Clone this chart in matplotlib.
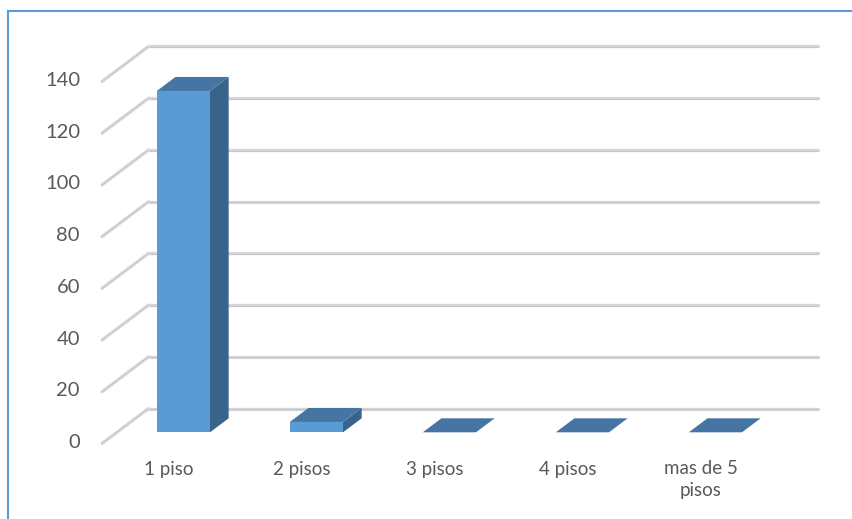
import matplotlib.pyplot as plt
from matplotlib.lines import Line2D

# Data
categories = ['1 piso', '2 pisos', '3 pisos', '4 pisos', 'mas de 5\npisos']
values = [132, 4, 0, 0, 0]
yticks = [0, 20, 40, 60, 80, 100, 120, 140]

# Oblique 3D look: px per category / per value unit, depth offset of the floor
CAT_PX = 133.0
VAL_PX = 2.586
DX = 46.6 / CAT_PX          # depth shift in category units
DY = 35.0 / VAL_PX          # depth shift in value units
BAR_W = 0.4                 # fraction of a category
D0, D1 = 0.32, 0.72         # bar front/back depth fraction

FRONT = '#5B9BD5'
TOP = '#4675A4'
SIDE = '#38638B'
TXT = '#595959'

plt.rcParams['font.family'] = ['Lato', 'DejaVu Sans']

fig = plt.figure(figsize=(8.53, 5.19), dpi=100)
ax = fig.add_axes([0, 0, 1, 1])
x0, y0 = 102.0, 443.5
ax.set_xlim(-x0 / CAT_PX, (853 - x0) / CAT_PX)
ax.set_ylim(-(519 - y0) / VAL_PX, y0 / VAL_PX)
ax.axis('off')

n = len(categories)

# back wall gridlines and left wall diagonals
for v in yticks:
    ax.plot([DX, n + DX + 0.03], [v + DY, v + DY], color='#d6d6d6', lw=2.4,
            solid_capstyle='round', zorder=1)
    ax.plot([DX, n + DX + 0.03], [v + DY - 0.25, v + DY - 0.25], color='#c4c4c4', lw=0.6,
            zorder=1)
    ax.plot([0, DX], [v, v + DY], color='#dadada', lw=2.4,
            solid_capstyle='round', zorder=1)
    ax.plot([0, DX], [v, v + DY], color='#b0b0b0', lw=0.7,
            dashes=(1, 1.2), zorder=1)

# bars
for i, v in enumerate(values):
    c = i + 0.5
    xl, xr = c - BAR_W / 2, c + BAR_W / 2
    fx, fy = D0 * DX, D0 * DY
    bx, by = D1 * DX, D1 * DY
    if v > 0:
        ax.fill([xl + fx, xr + fx, xr + fx, xl + fx],
                [fy, fy, v + fy, v + fy], color=FRONT, lw=0, zorder=3)
        ax.fill([xr + fx, xr + bx, xr + bx, xr + fx],
                [fy, by, v + by, v + fy], color=SIDE, lw=0, zorder=3)
    ax.fill([xl + fx, xr + fx, xr + bx, xl + bx],
            [v + fy, v + fy, v + by, v + by], color=TOP, lw=0, zorder=3)

# value axis labels on the front plane
for v in yticks:
    ax.annotate(str(v), (0, v), xytext=(-22, 1), textcoords='offset pixels',
                ha='right', va='center', fontsize=14.5, color=TXT)

# category labels
for i, lab in enumerate(categories):
    ax.annotate(lab, (i + 0.5, 0), xytext=(0, -17), textcoords='offset pixels',
                ha='center', va='top', fontsize=13.5, color=TXT, linespacing=1.35)

# chart area border (top and left edges visible)
fig.add_artist(Line2D([8 / 853, 8 / 853], [0, 1 - 11 / 519], color='#5B9BD5', lw=1.5))
fig.add_artist(Line2D([8 / 853, 1], [1 - 11 / 519, 1 - 11 / 519], color='#5B9BD5', lw=1.5))

fig.savefig('out.png', dpi=100)
